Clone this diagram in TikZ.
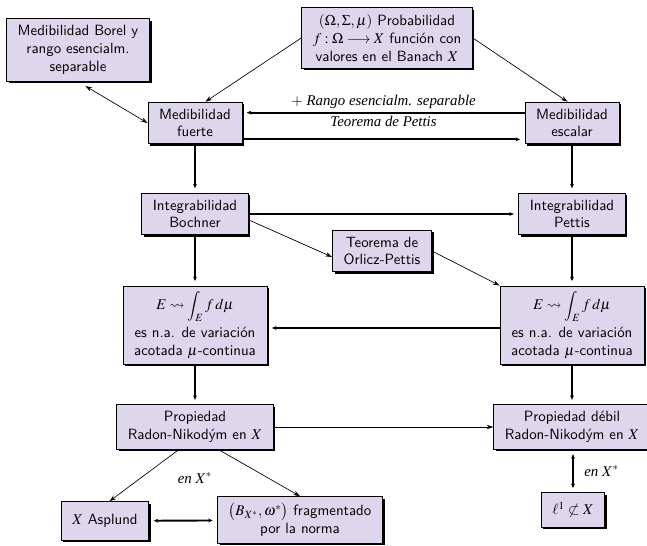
\documentclass[tikz,border=0pt]{standalone}
\usepackage{mathptmx}
\usepackage{amssymb}
\usepackage{fontspec}
\setmainfont{Liberation Serif}
\usetikzlibrary{positioning, calc, arrows.meta, shadows}
\definecolor{boxLila}{RGB}{222, 214, 236}

\tikzset{
  caja/.style={draw=black, line width=0.6pt, fill=boxLila, align=center,
    font=\sffamily, inner xsep=7.5pt, inner ysep=4.5pt,
    drop shadow={shadow xshift=1.4pt, shadow yshift=-1.4pt, fill=black, opacity=1}},
  flecha/.style={line width=1.3pt, -{Stealth[length=3pt, width=2.6pt]}, shorten >=3pt},
  flechaDoble/.style={line width=1.3pt,
    {Stealth[length=3pt, width=2.6pt]}-{Stealth[length=3pt, width=2.6pt]},
    shorten >=3pt, shorten <=3pt},
  fina/.style={line width=0.45pt, -{Stealth[length=4.5pt, width=3pt]}},
  finaDoble/.style={line width=0.45pt,
    {Stealth[length=4.5pt, width=3pt]}-{Stealth[length=4.5pt, width=3pt]}},
  etiq/.style={font=\rmfamily\itshape, inner sep=2pt}
}

\begin{document}
\begin{tikzpicture}[x=0.673pt, y=-0.673pt]
    % one unit = one pixel of the slide, y grows downwards
    \useasboundingbox (0,0) rectangle (647,545);

    %% ── top row ─────────────────────────────────────────────────────
    \node[caja] (borel) at (78,50) {Medibilidad Borel y\\ rango esencialm.\\ separable};
    \node[caja] (prob) at (387,38)
      {$(\Omega,\Sigma,\mu)$ Probabilidad\\ $f:\Omega\longrightarrow X$ función con\\ valores en el Banach $X$};

    %% ── measurability ───────────────────────────────────────────────
    \node[caja] (fuerte) at (195,123) {Medibilidad\\ fuerte};
    \node[caja] (escalar) at (572,123) {Medibilidad\\ escalar};

    %% ── integrability ───────────────────────────────────────────────
    \node[caja] (bochner) at (195,214) {Integrabilidad\\ Bochner};
    \node[caja] (pettis) at (572,214) {Integrabilidad\\ Pettis};
    \node[caja] (orlicz) at (382,251) {Teorema de\\ Orlicz-Pettis};

    %% ── indefinite integral ─────────────────────────────────────────
    \node[caja, inner ysep=3.5pt] (intIzq) at (195,325)
      {$E\leadsto\displaystyle\int_E f\,d\mu$\\[3pt] es n.a. de variación\\ acotada $\mu$-continua};
    \node[caja, inner ysep=3.5pt] (intDer) at (572,325)
      {$E\leadsto\displaystyle\int_E f\,d\mu$\\[3pt] es n.a. de variación\\ acotada $\mu$-continua};

    %% ── Radon-Nikodym ───────────────────────────────────────────────
    \node[caja] (rnIzq) at (195,427) {Propiedad\\ Radon-Nikodým en $X$};
    \node[caja] (rnDer) at (572,427) {Propiedad débil\\ Radon-Nikodým en $X$};

    %% ── bottom row ──────────────────────────────────────────────────
    \node[caja, minimum height=26pt] (asplund) at (105,521) {$X$ Asplund};
    \node[caja] (frag) at (300,520) {$\bigl(B_{X^*},\omega^*\bigr)$ fragmentado\\ por la norma};
    \node[caja, minimum height=23pt] (ele) at (573,510) {$\ell^1\not\subset X$};

    %% ── connectors ──────────────────────────────────────────────────
    \draw[fina] (prob.west) -- ([xshift=7pt]fuerte.north);
    \draw[fina] (prob.east) -- ([xshift=-3pt]escalar.north);
    \draw[finaDoble] ([xshift=5pt, yshift=-3pt]borel.south) -- (fuerte.west);
    % Pettis: escalar + separable range gives fuerte
    \draw[flecha] ([yshift=7pt]escalar.west) --
      node[etiq, above] {$+$ Rango esencialm. separable}
      node[etiq, below] {Teorema de Pettis} ([yshift=7pt]fuerte.east);
    \draw[flecha] ([yshift=-11pt]fuerte.east) -- ([yshift=-11pt]escalar.west);

    \draw[flecha] (fuerte) -- (bochner);
    \draw[flecha] (escalar) -- (pettis);
    \draw[flecha] (bochner) -- (pettis);
    \draw[fina] ([yshift=-4pt]bochner.east) -- ([yshift=-4pt]orlicz.west);
    \draw[fina] (orlicz.east) -- (intDer.north west);

    \draw[flecha] (bochner) -- (intIzq);
    \draw[flecha] (pettis) -- (intDer);
    \draw[flecha] ([yshift=-2pt]intDer.west) -- ([yshift=-2pt]intIzq.east);
    \draw[flecha] (intIzq) -- (rnIzq);
    \draw[flecha] (intDer) -- (rnDer);
    \draw[fina, line width=0.6pt] (rnIzq) -- (rnDer);

    \draw[fina] ([xshift=-11pt]rnIzq.south) -- ([xshift=3pt]asplund.north);
    \draw[fina] ([xshift=16pt]rnIzq.south) -- (frag.north);
    \node[etiq] (enIzq) at (195,478) {en $X^*$};
    \draw[flechaDoble] (asplund) -- (frag);
    \draw[flechaDoble] (ele.north |- rnDer.south) --
      node[etiq, right, xshift=5pt] {en $X^*$} (ele);

  \end{tikzpicture}
\end{document}
